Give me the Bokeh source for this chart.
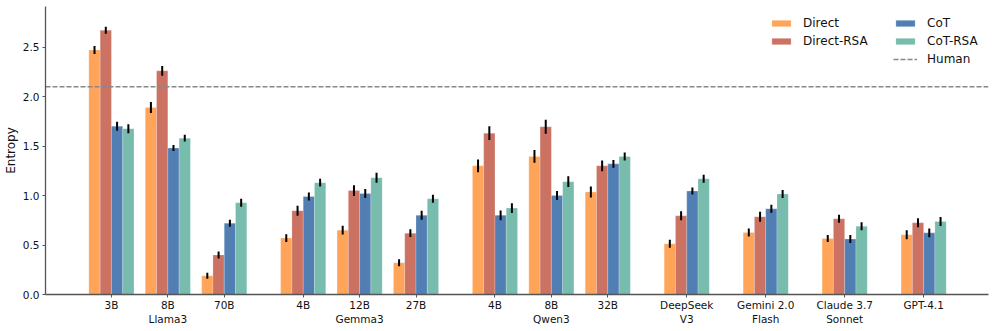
from bokeh.plotting import figure
from bokeh.models import (Range1d, FixedTicker, Legend, LegendItem, NumeralTickFormatter)
from bokeh.embed import file_html
from bokeh.resources import INLINE

# ---------------- data ----------------
groups = ["Llama3", "Gemma3", "Qwen3", "DeepSeek V3", "Gemini 2.0 Flash", "Claude 3.7 Sonnet", "GPT-4.1"]
group_sizes = [3, 3, 3, 1, 1, 1, 1]
tick_labels = ["3B", "8B\nLlama3", "70B",
               "4B", "12B\nGemma3", "27B",
               "4B", "8B\nQwen3", "32B",
               "DeepSeek\nV3", "Gemini 2.0\nFlash", "Claude 3.7\nSonnet", "GPT-4.1"]

series = ["Direct", "Direct-RSA", "CoT", "CoT-RSA"]
direct     = [2.47, 1.89, 0.19, 0.57, 0.65, 0.32, 1.30, 1.395, 1.035, 0.512, 0.627, 0.566, 0.603]
direct_rsa = [2.67, 2.26, 0.40, 0.846, 1.05, 0.62, 1.63, 1.695, 1.30, 0.795, 0.785, 0.765, 0.725]
cot        = [1.70, 1.48, 0.72, 0.99, 1.02, 0.80, 0.80, 1.00, 1.32, 1.045, 0.866, 0.56, 0.623]
cot_rsa    = [1.675, 1.58, 0.927, 1.13, 1.18, 0.967, 0.873, 1.14, 1.395, 1.17, 1.015, 0.69, 0.738]

direct_err     = [0.04, 0.055, 0.03, 0.04, 0.045, 0.035, 0.065, 0.065, 0.055, 0.04, 0.04, 0.035, 0.045]
direct_rsa_err = [0.035, 0.05, 0.035, 0.05, 0.055, 0.04, 0.07, 0.07, 0.055, 0.045, 0.05, 0.04, 0.045]
cot_err        = [0.045, 0.03, 0.035, 0.04, 0.045, 0.045, 0.05, 0.045, 0.04, 0.035, 0.04, 0.04, 0.045]
cot_rsa_err    = [0.045, 0.035, 0.04, 0.04, 0.05, 0.04, 0.05, 0.055, 0.04, 0.04, 0.04, 0.04, 0.045]

human = 2.10
y_ticks = [0.0, 0.5, 1.0, 1.5, 2.0, 2.5]

colors = ["#FF9F4F", "#C86A5A", "#4878AF", "#70B8A8"]

# ---------------- layout of categories ----------------
GAP = 0.4
positions = []
k = 0
for gi, n in enumerate(group_sizes):
    for j in range(n):
        positions.append(round(k + GAP * gi, 3))
        k += 1

values = [direct, direct_rsa, cot, cot_rsa]
errors = [direct_err, direct_rsa_err, cot_err, cot_rsa_err]
offsets = [-0.3, -0.1, 0.1, 0.3]
BAR_W = 0.2

X0, X1 = -1.169, 15.55
p = figure(width=996, height=331, output_backend="svg", toolbar_location=None,
           x_range=Range1d(X0, X1), y_range=Range1d(0, 2.91),
           min_border_left=44, min_border_right=8, min_border_top=6, min_border_bottom=37)
p.background_fill_color = "white"
p.border_fill_color = "white"
p.outline_line_color = None
p.xgrid.visible = False
p.ygrid.visible = False

renderers = []
for vals, errs, off, col in zip(values, errors, offsets, colors):
    xs = [x + off for x in positions]
    r = p.vbar(x=xs, top=vals, width=BAR_W, fill_color=col, fill_alpha=0.95,
               line_color="white", line_alpha=0.35, line_width=0.6)
    renderers.append(r)
    p.segment(x0=xs, y0=[v - e for v, e in zip(vals, errs)],
              x1=xs, y1=[v + e for v, e in zip(vals, errs)],
              line_color="black", line_width=2)

human_r = p.line(x=[X0, X1], y=[human, human], line_color="#888888",
                 line_width=1.5, line_dash="5 2")

# axes
FONT = "DejaVu Sans"
p.xaxis.ticker = FixedTicker(ticks=positions)
p.xaxis.major_label_overrides = {pos: lab for pos, lab in zip(positions, tick_labels)}
p.yaxis.ticker = FixedTicker(ticks=y_ticks)
p.yaxis.formatter = NumeralTickFormatter(format="0.0")
for ax in (p.xaxis[0], p.yaxis[0]):
    ax.axis_line_color = "#555555"
    ax.axis_line_width = 1.3
    ax.major_tick_line_color = "#555555"
    ax.major_tick_line_width = 1
    ax.major_tick_out = 3
    ax.major_tick_in = 0
    ax.minor_tick_line_color = None
    ax.major_label_text_font = FONT
    ax.major_label_text_font_size = "10.5px"
    ax.major_label_text_color = "#111111"
    ax.major_label_standoff = 3
p.yaxis.axis_label = "Entropy"
p.yaxis.axis_label_text_font = FONT
p.yaxis.axis_label_text_font_size = "12px"
p.yaxis.axis_label_text_font_style = "normal"
p.yaxis.axis_label_text_color = "#111111"
p.yaxis.axis_label_standoff = 2
p.xaxis.major_label_standoff = 1

def make_legend(items, loc):
    lg = Legend(items=items, location=loc, orientation="vertical",
                background_fill_alpha=0, border_line_color=None,
                padding=0, margin=0, spacing=4,
                label_text_font=FONT, label_text_font_size="12px",
                label_text_color="#111111",
                glyph_width=24, glyph_height=8, label_height=14,
                label_standoff=10)
    p.add_layout(lg, "center")
    return lg

make_legend([LegendItem(label="Direct", renderers=[renderers[0]]),
             LegendItem(label="Direct-RSA", renderers=[renderers[1]])], (724, 246))
make_legend([LegendItem(label="CoT", renderers=[renderers[2]]),
             LegendItem(label="CoT-RSA", renderers=[renderers[3]]),
             LegendItem(label="Human", renderers=[human_r])], (848, 228))

open("out.html", "w").write(file_html(p, INLINE))
